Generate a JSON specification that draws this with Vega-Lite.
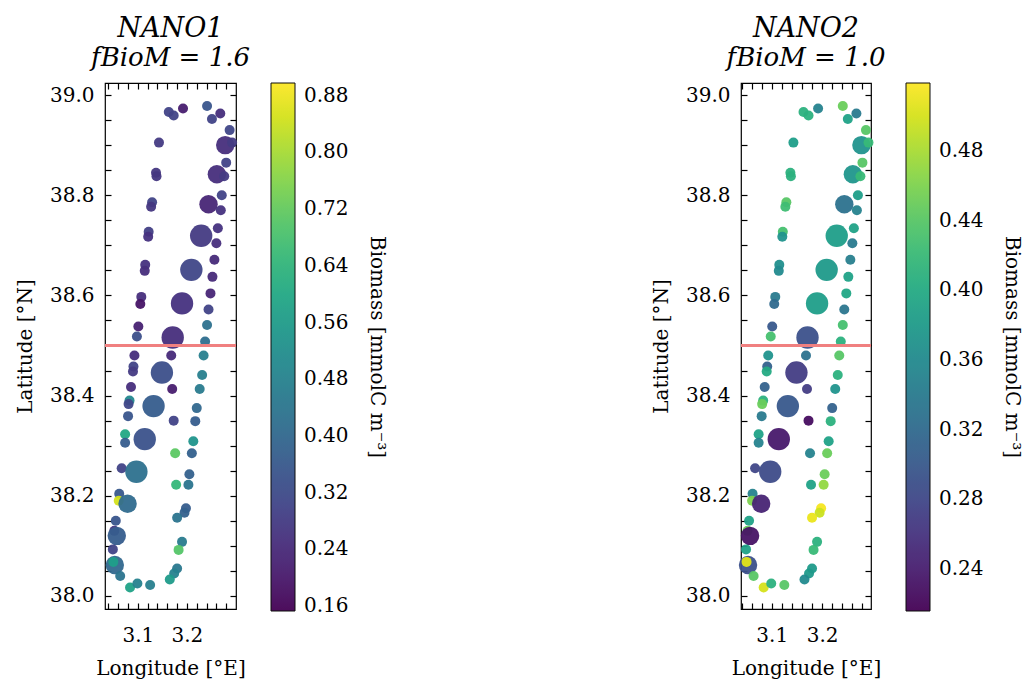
{
  "$schema": "https://vega.github.io/schema/vega-lite/v6.json",
  "padding": {"left": 14, "top": 14, "right": 0, "bottom": 0},
  "background": "white",
  "config": {
    "font": "DejaVu Serif",
    "view": {"stroke": "black", "strokeWidth": 1.2},
    "axis": {"grid": false, "domain": false, "tickColor": "black", "labelColor": "black", "titleColor": "black", "labelFontSize": 20, "titleFontSize": 20, "titleFontWeight": "normal", "labelFontWeight": "normal", "labelFont": "DejaVu Serif", "titleFont": "DejaVu Serif", "tickWidth": 1.2, "tickSize": -6, "labelOverlap": false},
    "legend": {"labelFont": "DejaVu Serif", "titleFont": "DejaVu Serif", "labelColor": "black", "titleColor": "black"},
    "title": {"font": "DejaVu Serif", "subtitleFont": "DejaVu Serif", "color": "black", "subtitleColor": "black"}
  },
  "data": {"values": [
    {"lon": 3.192, "lat": 38.973, "w": 1, "b1": 0.21, "b2": 0.35},
    {"lon": 3.163, "lat": 38.966, "w": 1, "b1": 0.30, "b2": 0.41},
    {"lon": 3.173, "lat": 38.959, "w": 1, "b1": 0.30, "b2": 0.41},
    {"lon": 3.241, "lat": 38.978, "w": 1, "b1": 0.35, "b2": 0.45},
    {"lon": 3.268, "lat": 38.963, "w": 1, "b1": 0.25, "b2": 0.34},
    {"lon": 3.251, "lat": 38.952, "w": 1, "b1": 0.30, "b2": 0.39},
    {"lon": 3.287, "lat": 38.930, "w": 1, "b1": 0.31, "b2": 0.44},
    {"lon": 3.278, "lat": 38.900, "w": 2.2, "b1": 0.25, "b2": 0.37},
    {"lon": 3.292, "lat": 38.905, "w": 1, "b1": 0.28, "b2": 0.42},
    {"lon": 3.143, "lat": 38.905, "w": 1, "b1": 0.28, "b2": 0.385},
    {"lon": 3.280, "lat": 38.865, "w": 1, "b1": 0.30, "b2": 0.44},
    {"lon": 3.137, "lat": 38.845, "w": 1, "b1": 0.27, "b2": 0.41},
    {"lon": 3.138, "lat": 38.838, "w": 1, "b1": 0.27, "b2": 0.41},
    {"lon": 3.261, "lat": 38.842, "w": 2.2, "b1": 0.25, "b2": 0.375},
    {"lon": 3.276, "lat": 38.838, "w": 1, "b1": 0.28, "b2": 0.42},
    {"lon": 3.271, "lat": 38.800, "w": 1, "b1": 0.30, "b2": 0.385},
    {"lon": 3.129, "lat": 38.786, "w": 1, "b1": 0.30, "b2": 0.44},
    {"lon": 3.127, "lat": 38.777, "w": 1, "b1": 0.27, "b2": 0.425},
    {"lon": 3.244, "lat": 38.782, "w": 2.2, "b1": 0.23, "b2": 0.33},
    {"lon": 3.269, "lat": 38.770, "w": 1, "b1": 0.26, "b2": 0.35},
    {"lon": 3.263, "lat": 38.734, "w": 1, "b1": 0.26, "b2": 0.39},
    {"lon": 3.122, "lat": 38.727, "w": 1, "b1": 0.29, "b2": 0.43},
    {"lon": 3.121, "lat": 38.717, "w": 1, "b1": 0.26, "b2": 0.37},
    {"lon": 3.229, "lat": 38.719, "w": 3, "b1": 0.28, "b2": 0.385},
    {"lon": 3.260, "lat": 38.704, "w": 1, "b1": 0.25, "b2": 0.34},
    {"lon": 3.115, "lat": 38.661, "w": 1, "b1": 0.26, "b2": 0.365},
    {"lon": 3.114, "lat": 38.649, "w": 1, "b1": 0.25, "b2": 0.36},
    {"lon": 3.209, "lat": 38.651, "w": 3, "b1": 0.31, "b2": 0.38},
    {"lon": 3.256, "lat": 38.671, "w": 1, "b1": 0.24, "b2": 0.345},
    {"lon": 3.252, "lat": 38.637, "w": 1, "b1": 0.24, "b2": 0.39},
    {"lon": 3.248, "lat": 38.604, "w": 1, "b1": 0.23, "b2": 0.395},
    {"lon": 3.107, "lat": 38.597, "w": 1, "b1": 0.25, "b2": 0.34},
    {"lon": 3.105, "lat": 38.583, "w": 1, "b1": 0.19, "b2": 0.32},
    {"lon": 3.190, "lat": 38.584, "w": 3, "b1": 0.26, "b2": 0.385},
    {"lon": 3.244, "lat": 38.572, "w": 1, "b1": 0.30, "b2": 0.335},
    {"lon": 3.241, "lat": 38.541, "w": 1, "b1": 0.43, "b2": 0.43},
    {"lon": 3.101, "lat": 38.538, "w": 1, "b1": 0.22, "b2": 0.30},
    {"lon": 3.098, "lat": 38.518, "w": 1, "b1": 0.33, "b2": 0.43},
    {"lon": 3.171, "lat": 38.516, "w": 3, "b1": 0.25, "b2": 0.29},
    {"lon": 3.237, "lat": 38.508, "w": 1, "b1": 0.42, "b2": 0.41},
    {"lon": 3.093, "lat": 38.480, "w": 1, "b1": 0.25, "b2": 0.37},
    {"lon": 3.168, "lat": 38.480, "w": 1, "b1": 0.24, "b2": 0.33},
    {"lon": 3.234, "lat": 38.480, "w": 1, "b1": 0.47, "b2": 0.44},
    {"lon": 3.091, "lat": 38.458, "w": 1, "b1": 0.30, "b2": 0.31},
    {"lon": 3.090, "lat": 38.448, "w": 1, "b1": 0.28, "b2": 0.40},
    {"lon": 3.149, "lat": 38.446, "w": 3, "b1": 0.33, "b2": 0.27},
    {"lon": 3.231, "lat": 38.441, "w": 1, "b1": 0.47, "b2": 0.41},
    {"lon": 3.086, "lat": 38.417, "w": 1, "b1": 0.25, "b2": 0.31},
    {"lon": 3.170, "lat": 38.413, "w": 1, "b1": 0.21, "b2": 0.27},
    {"lon": 3.226, "lat": 38.413, "w": 1, "b1": 0.46, "b2": 0.37},
    {"lon": 3.083, "lat": 38.390, "w": 1, "b1": 0.50, "b2": 0.41},
    {"lon": 3.081, "lat": 38.383, "w": 1, "b1": 0.31, "b2": 0.45},
    {"lon": 3.132, "lat": 38.379, "w": 3, "b1": 0.37, "b2": 0.30},
    {"lon": 3.220, "lat": 38.375, "w": 1, "b1": 0.40, "b2": 0.31},
    {"lon": 3.080, "lat": 38.359, "w": 1, "b1": 0.35, "b2": 0.34},
    {"lon": 3.173, "lat": 38.350, "w": 1, "b1": 0.30, "b2": 0.225},
    {"lon": 3.217, "lat": 38.349, "w": 1, "b1": 0.37, "b2": 0.41},
    {"lon": 3.074, "lat": 38.323, "w": 1, "b1": 0.60, "b2": 0.39},
    {"lon": 3.074, "lat": 38.306, "w": 1, "b1": 0.37, "b2": 0.35},
    {"lon": 3.114, "lat": 38.313, "w": 3, "b1": 0.34, "b2": 0.235},
    {"lon": 3.213, "lat": 38.309, "w": 1, "b1": 0.54, "b2": 0.39},
    {"lon": 3.176, "lat": 38.285, "w": 1, "b1": 0.71, "b2": 0.35},
    {"lon": 3.210, "lat": 38.285, "w": 1, "b1": 0.38, "b2": 0.45},
    {"lon": 3.067, "lat": 38.255, "w": 1, "b1": 0.30, "b2": 0.28},
    {"lon": 3.097, "lat": 38.248, "w": 3, "b1": 0.43, "b2": 0.285},
    {"lon": 3.205, "lat": 38.243, "w": 1, "b1": 0.38, "b2": 0.45},
    {"lon": 3.178, "lat": 38.222, "w": 1, "b1": 0.65, "b2": 0.39},
    {"lon": 3.203, "lat": 38.222, "w": 1, "b1": 0.44, "b2": 0.47},
    {"lon": 3.062, "lat": 38.204, "w": 1, "b1": 0.36, "b2": 0.35},
    {"lon": 3.061, "lat": 38.190, "w": 1, "b1": 0.85, "b2": 0.46},
    {"lon": 3.079, "lat": 38.184, "w": 2.2, "b1": 0.41, "b2": 0.245},
    {"lon": 3.198, "lat": 38.175, "w": 1, "b1": 0.37, "b2": 0.515},
    {"lon": 3.195, "lat": 38.166, "w": 1, "b1": 0.38, "b2": 0.495},
    {"lon": 3.180, "lat": 38.156, "w": 1, "b1": 0.44, "b2": 0.51},
    {"lon": 3.055, "lat": 38.150, "w": 1, "b1": 0.35, "b2": 0.39},
    {"lon": 3.052, "lat": 38.130, "w": 1, "b1": 0.27, "b2": 0.45},
    {"lon": 3.057, "lat": 38.120, "w": 2.2, "b1": 0.37, "b2": 0.23},
    {"lon": 3.190, "lat": 38.108, "w": 1, "b1": 0.46, "b2": 0.41},
    {"lon": 3.183, "lat": 38.092, "w": 1, "b1": 0.70, "b2": 0.42},
    {"lon": 3.049, "lat": 38.093, "w": 1, "b1": 0.30, "b2": 0.39},
    {"lon": 3.053, "lat": 38.062, "w": 2.2, "b1": 0.40, "b2": 0.29},
    {"lon": 3.050, "lat": 38.068, "w": 1, "b1": 0.57, "b2": 0.505},
    {"lon": 3.064, "lat": 38.040, "w": 1, "b1": 0.44, "b2": 0.44},
    {"lon": 3.180, "lat": 38.055, "w": 1, "b1": 0.45, "b2": 0.38},
    {"lon": 3.174, "lat": 38.045, "w": 1, "b1": 0.48, "b2": 0.38},
    {"lon": 3.165, "lat": 38.033, "w": 1, "b1": 0.56, "b2": 0.36},
    {"lon": 3.084, "lat": 38.017, "w": 1, "b1": 0.58, "b2": 0.50},
    {"lon": 3.099, "lat": 38.025, "w": 1, "b1": 0.48, "b2": 0.41},
    {"lon": 3.125, "lat": 38.022, "w": 1, "b1": 0.47, "b2": 0.44}
  ]},
  "resolve": {"scale": {"color": "independent", "size": "independent", "x": "independent", "y": "independent"}, "legend": {"color": "independent"}},
  "hconcat": [
    {
      "width": 131, "height": 526,
      "title": {"text": "NANO1", "subtitle": "fBioM = 1.6", "fontSize": 27, "fontStyle": "italic", "fontWeight": "normal", "subtitleFontSize": 26, "subtitleFontStyle": "italic", "anchor": "middle", "frame": "group", "offset": 10, "subtitlePadding": 2},
      "resolve": {"axis": {"x": "independent", "y": "independent"}},
      "layer": [
        {
          "mark": {"type": "circle", "opacity": 0.95},
          "encoding": {
            "x": {"field": "lon", "type": "quantitative", "scale": {"domain": [3.033, 3.300], "nice": false, "zero": false},
              "axis": {"orient": "bottom", "title": "Longitude [°E]", "values": [3.04,3.06,3.08,3.10,3.12,3.14,3.16,3.18,3.20,3.22,3.24,3.26,3.28],
                "labelExpr": "abs(datum.value*10 - round(datum.value*10)) < 0.001 ? format(datum.value, '.1f') : ''",
                "labelPadding": 22, "titlePadding": 13}},
            "y": {"field": "lat", "type": "quantitative", "scale": {"domain": [37.974, 39.024], "nice": false, "zero": false},
              "axis": {"orient": "left", "title": "Latitude [°N]", "values": [38.0,38.05,38.1,38.15,38.2,38.25,38.3,38.35,38.4,38.45,38.5,38.55,38.6,38.65,38.7,38.75,38.8,38.85,38.9,38.95,39.0],
                "labelExpr": "abs(datum.value*5 - round(datum.value*5)) < 0.001 ? format(datum.value, '.1f') : ''",
                "labelPadding": 17, "titlePadding": 14}},
            "size": {"field": "w", "type": "quantitative", "scale": {"domain": [1, 3], "range": [100, 500]}, "legend": null},
            "color": {"field": "b1", "type": "quantitative", "scale": {"scheme": "viridis", "domain": [0.153, 0.898]},
              "legend": {"orient": "right", "offset": 34, "direction": "vertical", "gradientLength": 528, "gradientThickness": 24,
                "values": [0.16,0.24,0.32,0.40,0.48,0.56,0.64,0.72,0.80,0.88], "format": ".2f", "labelFontSize": 20, "labelOffset": 9, "labelOverlap": false,
                "gradientStrokeColor": "black", "gradientStrokeWidth": 1,
                "title": "Biomass [mmolC m⁻³]", "titleFontSize": 20, "titleFontWeight": "normal", "titleOrient": "right", "titlePadding": 18, "titleLimit": 800,
                "encode": {"title": {"enter": {"angle": {"value": 270}}, "update": {"angle": {"value": 270}}}}}}
          }
        },
        {
          "mark": {"type": "circle", "opacity": 0},
          "encoding": {
            "x": {"field": "lon", "type": "quantitative",
              "axis": {"orient": "top", "title": null, "labels": false, "values": [3.04,3.06,3.08,3.10,3.12,3.14,3.16,3.18,3.20,3.22,3.24,3.26,3.28]}},
            "y": {"field": "lat", "type": "quantitative",
              "axis": {"orient": "right", "title": null, "labels": false, "values": [38.0,38.05,38.1,38.15,38.2,38.25,38.3,38.35,38.4,38.45,38.5,38.55,38.6,38.65,38.7,38.75,38.8,38.85,38.9,38.95,39.0]}}
          }
        },
        {
          "mark": {"type": "rule", "color": "#f08080", "strokeWidth": 3},
          "encoding": {"y": {"datum": 38.5, "type": "quantitative", "axis": null}}
        }
      ]
    },
    {
      "width": 130, "height": 526,
      "title": {"text": "NANO2", "subtitle": "fBioM = 1.0", "fontSize": 27, "fontStyle": "italic", "fontWeight": "normal", "subtitleFontSize": 26, "subtitleFontStyle": "italic", "anchor": "middle", "frame": "group", "offset": 10, "subtitlePadding": 2},
      "resolve": {"axis": {"x": "independent", "y": "independent"}},
      "layer": [
        {
          "mark": {"type": "circle", "opacity": 0.95},
          "encoding": {
            "x": {"field": "lon", "type": "quantitative", "scale": {"domain": [3.039, 3.297], "nice": false, "zero": false},
              "axis": {"orient": "bottom", "title": "Longitude [°E]", "values": [3.04,3.06,3.08,3.10,3.12,3.14,3.16,3.18,3.20,3.22,3.24,3.26,3.28],
                "labelExpr": "abs(datum.value*10 - round(datum.value*10)) < 0.001 ? format(datum.value, '.1f') : ''",
                "labelPadding": 22, "titlePadding": 13}},
            "y": {"field": "lat", "type": "quantitative", "scale": {"domain": [37.974, 39.024], "nice": false, "zero": false},
              "axis": {"orient": "left", "title": "Latitude [°N]", "values": [38.0,38.05,38.1,38.15,38.2,38.25,38.3,38.35,38.4,38.45,38.5,38.55,38.6,38.65,38.7,38.75,38.8,38.85,38.9,38.95,39.0],
                "labelExpr": "abs(datum.value*5 - round(datum.value*5)) < 0.001 ? format(datum.value, '.1f') : ''",
                "labelPadding": 17, "titlePadding": 14}},
            "size": {"field": "w", "type": "quantitative", "scale": {"domain": [1, 3], "range": [100, 500]}, "legend": null},
            "color": {"field": "b2", "type": "quantitative", "scale": {"scheme": "viridis", "domain": [0.216, 0.519]},
              "legend": {"orient": "right", "offset": 34, "direction": "vertical", "gradientLength": 528, "gradientThickness": 24,
                "values": [0.24,0.28,0.32,0.36,0.40,0.44,0.48], "format": ".2f", "labelFontSize": 20, "labelOffset": 9, "labelOverlap": false,
                "gradientStrokeColor": "black", "gradientStrokeWidth": 1,
                "title": "Biomass [mmolC m⁻³]", "titleFontSize": 20, "titleFontWeight": "normal", "titleOrient": "right", "titlePadding": 18, "titleLimit": 800,
                "encode": {"title": {"enter": {"angle": {"value": 270}}, "update": {"angle": {"value": 270}}}}}}
          }
        },
        {
          "mark": {"type": "circle", "opacity": 0},
          "encoding": {
            "x": {"field": "lon", "type": "quantitative",
              "axis": {"orient": "top", "title": null, "labels": false, "values": [3.04,3.06,3.08,3.10,3.12,3.14,3.16,3.18,3.20,3.22,3.24,3.26,3.28]}},
            "y": {"field": "lat", "type": "quantitative",
              "axis": {"orient": "right", "title": null, "labels": false, "values": [38.0,38.05,38.1,38.15,38.2,38.25,38.3,38.35,38.4,38.45,38.5,38.55,38.6,38.65,38.7,38.75,38.8,38.85,38.9,38.95,39.0]}}
          }
        },
        {
          "mark": {"type": "rule", "color": "#f08080", "strokeWidth": 3},
          "encoding": {"y": {"datum": 38.5, "type": "quantitative", "axis": null}}
        }
      ]
    }
  ],
  "spacing": 262
}
